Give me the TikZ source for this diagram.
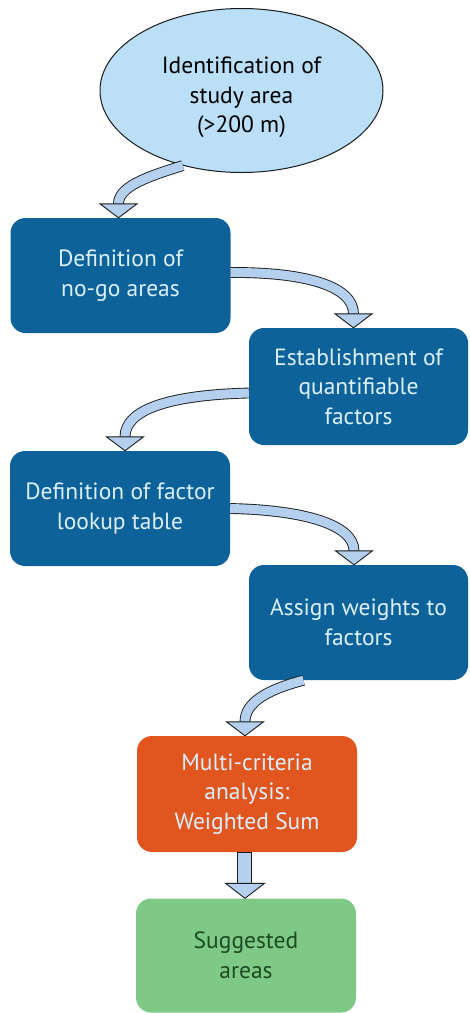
\documentclass[tikz,border=0pt]{standalone}
\usepackage{fontspec}
\setmainfont{PT Sans}
\usetikzlibrary{shapes.geometric,calc}
\definecolor{boxblue}{HTML}{0D6399}
\definecolor{ellblue}{HTML}{BADFF6}
\definecolor{arrfill}{HTML}{B5D0EE}
\definecolor{orangebox}{HTML}{E0561E}
\definecolor{greenbox}{HTML}{7DC985}
\definecolor{boxtext}{HTML}{DDEFFB}
\definecolor{greentext}{HTML}{1E4A22}
\definecolor{arrline}{HTML}{1A1A1A}
\begin{document}
\begin{tikzpicture}[x=1pt,y=-1pt,
  txt/.style={font=\fontsize{23.5}{29.5}\selectfont, align=center},
  stepbox/.style={txt, rectangle, rounded corners=15pt, inner sep=0pt, minimum width=220pt, minimum height=115pt, fill=boxblue, text=boxtext},
  shaft/.style={draw=arrline, line width=0.9pt, double=arrfill, double distance=9pt},
  headtri/.style={draw=arrline, line width=0.9pt, fill=arrfill, line join=miter}
]
\useasboundingbox (0,0) rectangle (469,1013);
\node[ellipse, draw=arrline, line width=1pt, fill=ellblue, inner sep=0pt, minimum width=283pt, minimum height=164pt] (ell) at (241.5,90.5) {};
\node[txt] (elltext) at ([yshift=-7pt]ell.center) {Identification of\\study area\\(>200 m)};
\node[stepbox] (b1) at (120.5,275.5) {Definition of\\no-go areas};
\node[stepbox, minimum width=219pt, minimum height=117pt] (b2) at (358.5,386.5) {Establishment of\\quantifiable\\factors};
\node[stepbox] (b3) at (120,508.5) {Definition of factor\\lookup table};
\node[stepbox, minimum width=219pt] (b4) at (358.5,622.5) {Assign weights to\\factors};
\node[stepbox, minimum height=116pt, fill=orangebox, text=boxtext] (b5) at (247,794) {Multi-criteria\\analysis:\\Weighted Sum};
\node[stepbox, fill=greenbox, text=greentext, minimum height=114pt] (b6) at (246,955.5) {Suggested\\areas};

% arrow 1
\coordinate (t1) at ([xshift=-2pt]b1.north);
\coordinate (h1) at ($(t1)+(0,-14)$);
\draw[shaft] (ell.232) .. controls (142,178) and (118.5,188) .. (h1);
\draw[headtri] ($(h1)+(-18.5,0)$) -- ($(h1)+(18.5,0)$) -- (t1) -- cycle;
% arrow 2
\coordinate (t2) at ([xshift=-5pt]b2.north);
\coordinate (h2) at ($(t2)+(0,-14)$);
\draw[shaft] ([yshift=3pt]b1.east) .. controls (305,272) and (353.5,286) .. (h2);
\draw[headtri] ($(h2)+(-18.5,0)$) -- ($(h2)+(18.5,0)$) -- (t2) -- cycle;
% arrow 3
\coordinate (t3) at ([xshift=5pt]b3.north);
\coordinate (h3) at ($(t3)+(0,-14)$);
\draw[shaft] ([yshift=-6.5pt]b2.west) .. controls (168,395) and (125,410) .. (h3);
\draw[headtri] ($(h3)+(-18.5,0)$) -- ($(h3)+(18.5,0)$) -- (t3) -- cycle;
% arrow 4
\coordinate (t4) at ([xshift=-4.5pt]b4.north);
\coordinate (h4) at ($(t4)+(0,-14)$);
\draw[shaft] ([yshift=0pt]b3.east) .. controls (305,510) and (354,525) .. (h4);
\draw[headtri] ($(h4)+(-18.5,0)$) -- ($(h4)+(18.5,0)$) -- (t4) -- cycle;
% arrow 5
\coordinate (t5) at ([xshift=-2pt]b5.north);
\coordinate (h5) at ($(t5)+(0,-14)$);
\draw[shaft] ([xshift=-55pt]b4.south) .. controls (266,690) and (245,703) .. (h5);
\draw[headtri] ($(h5)+(-18.5,0)$) -- ($(h5)+(18.5,0)$) -- (t5) -- cycle;
% arrow 6
\coordinate (t6) at ([xshift=-1pt]b6.north);
\coordinate (h6) at ($(t6)+(0,-15)$);
\draw[draw=arrline, line width=0.9pt, fill=arrfill] ($(b5.south)+(-9.5,0)$) rectangle ($(h6)+(6,0)$);
\draw[headtri] ($(h6)+(-19.5,0)$) -- ($(h6)+(19.5,0)$) -- (t6) -- cycle;
\end{tikzpicture}
\end{document}
